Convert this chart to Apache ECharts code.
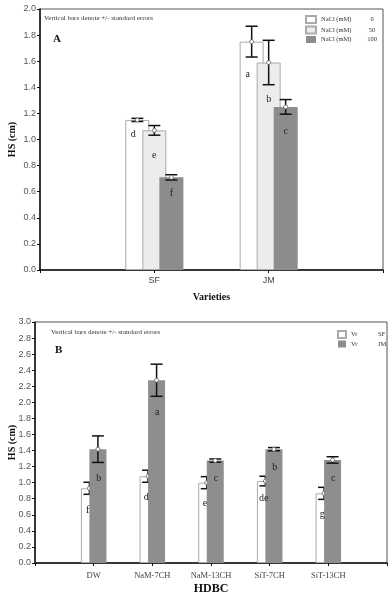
<!DOCTYPE html>
<html>
<head>
<meta charset="utf-8">
<script src="https://cdn.jsdelivr.net/npm/echarts@6/dist/echarts.min.js"></script>
<style>
  html, body { margin: 0; padding: 0; background: #fff; }
  #chart { width: 391px; height: 600px; }
</style>
</head>
<body>
<div id="chart"></div>
<script>
// Panel A - varieties under NaCl
const varieties = ['SF', 'JM'];
const naclLevels = ['0', '50', '100'];
const hsNacl0 = [1.15, 1.75];
const seNacl0 = [0.012, 0.118];
const hsNacl50 = [1.07, 1.59];
const seNacl50 = [0.037, 0.17];
const hsNacl100 = [0.71, 1.25];
const seNacl100 = [0.02, 0.056];
const lettersNacl0 = ['d', 'a'];
const letterYNacl0 = [1.04, 1.50];
const lettersNacl50 = ['e', 'b'];
const letterYNacl50 = [0.88, 1.31];
const lettersNacl100 = ['f', 'c'];
const letterYNacl100 = [0.59, 1.06];
const ticksA = [0, 2, 0.2];

// Panel B - HDBC treatments
const treatments = ['DW', 'NaM-7CH', 'NaM-13CH', 'SiT-7CH', 'SiT-13CH'];
const hsSF = [0.93, 1.08, 1.00, 1.02, 0.867];
const seSF = [0.075, 0.075, 0.075, 0.06, 0.075];
const hsJM = [1.417, 2.275, 1.275, 1.417, 1.283];
const seJM = [0.165, 0.2, 0.02, 0.02, 0.04];
const lettersSF = ['f', 'd', 'e', 'de', 'g'];
const letterYSF = [0.66, 0.82, 0.745, 0.80, 0.61];
const lettersJM = ['b', 'a', 'c', 'b', 'c'];
const letterYJM = [1.05, 1.87, 1.05, 1.19, 1.05];
const ticksB = [0, 3, 0.2];

const SERIF = '"Liberation Serif", "DejaVu Serif", serif';
const SANS = '"Liberation Sans", Arial, sans-serif';

let chart = echarts.init(document.getElementById('chart'));

// pad the category list so groups sit at 1/3, 2/3 ... like the original
const pad = arr => [''].concat(arr, ['']);
const toPoints = arr => arr.map((v, i) => [i + 1, v]);

function barSeries(name, xi, values, color, border, z) {
    return {
        name: name,
        type: 'bar',
        z: z,
        xAxisIndex: xi,
        yAxisIndex: xi,
        barWidth: xi === 0 ? 24 : 17,
        barGap: xi === 0 ? '-29%' : '-50%',
        data: toPoints(values),
        itemStyle: { color: color, borderColor: border, borderWidth: border ? 1 : 0 },
        emphasis: { disabled: true }
    };
}

function errSeries(xi, values, errs, offset, z) {
    return {
        type: 'custom',
        z: z,
        xAxisIndex: xi,
        yAxisIndex: xi,
        data: values.map((v, i) => [i + 1, v, errs[i]]),
        encode: { x: 0, y: 1 },
        renderItem: (params, api) => {
            const c = api.coord([api.value(0), api.value(1)]);
            const hi = api.coord([api.value(0), api.value(1) + api.value(2)]);
            const lo = api.coord([api.value(0), api.value(1) - api.value(2)]);
            const x = c[0] + offset;
            const cap = 6;
            const ln = { stroke: '#111', lineWidth: 1.5 };
            return {
                type: 'group',
                children: [
                    { type: 'line', shape: { x1: x, y1: hi[1], x2: x, y2: lo[1] }, style: ln },
                    { type: 'line', shape: { x1: x - cap, y1: hi[1], x2: x + cap, y2: hi[1] }, style: ln },
                    { type: 'line', shape: { x1: x - cap, y1: lo[1], x2: x + cap, y2: lo[1] }, style: ln },
                    { type: 'circle', shape: { cx: x, cy: c[1], r: 2 }, style: { fill: '#fff', stroke: '#666', lineWidth: 0.8 } }
                ]
            };
        }
    };
}

function letterSeries(xi, letters, ys, offset) {
    return {
        type: 'custom',
        z: 20,
        xAxisIndex: xi,
        yAxisIndex: xi,
        data: ys.map((v, i) => [i + 1, v]),
        encode: { x: 0, y: 1 },
        renderItem: (params, api) => {
            const p = api.coord([api.value(0), api.value(1)]);
            return {
                type: 'text',
                style: {
                    text: letters[params.dataIndex],
                    x: p[0] + offset, y: p[1],
                    align: 'center', verticalAlign: 'middle',
                    font: '10px ' + SERIF, fill: '#222'
                }
            };
        }
    };
}

function catAxis(gi, cats, name, gap, labelFont, labelMargin, nameSize) {
    return {
        type: 'category', gridIndex: gi, data: pad(cats), boundaryGap: false,
        name: name, nameLocation: 'middle', nameGap: gap, nameMoveOverlap: false,
        nameTextStyle: { fontFamily: SERIF, fontWeight: 'bold', fontSize: nameSize, color: '#111' },
        axisLine: { lineStyle: { color: '#111', width: 1.5 } },
        axisTick: { interval: 0, length: 3, lineStyle: { color: '#111' } },
        axisLabel: { interval: 0, fontFamily: labelFont, fontSize: labelFont === SANS ? 9 : 8.5, color: '#444', margin: labelMargin },
        splitLine: { show: false }
    };
}

function valAxis(gi, t, gap) {
    return {
        type: 'value', gridIndex: gi, min: t[0], max: t[1], interval: t[2],
        name: 'HS (cm)', nameLocation: 'middle', nameGap: gap, nameRotate: 90, nameMoveOverlap: false,
        nameTextStyle: { fontFamily: SERIF, fontWeight: 'bold', fontSize: 10, color: '#111' },
        axisLine: { show: true, lineStyle: { color: '#111', width: 1.5 } },
        axisTick: { show: true, length: 3, lineStyle: { color: '#111' } },
        axisLabel: { fontFamily: SANS, fontSize: 9, color: '#555', margin: 4, formatter: v => v.toFixed(1) },
        splitLine: { show: false }
    };
}

const naclNames = naclLevels.map(l => 'NaCl (mM) ' + l);
const vrNames = ['Vr SF', 'Vr JM'];

let option = {
    animation: false,
    backgroundColor: '#fff',
    grid: [
        { left: 40, right: 8, top: 9, bottom: 330, show: true, borderColor: '#555', borderWidth: 1, containLabel: false, outerBoundsMode: 'none' },
        { left: 35, right: 4, top: 322, bottom: 37, show: true, borderColor: '#555', borderWidth: 1, containLabel: false, outerBoundsMode: 'none' }
    ],
    xAxis: [
        catAxis(0, varieties, 'Varieties', 22, SANS, 6, 10),
        catAxis(1, treatments, 'HDBC', 20, SERIF, 8, 12)
    ],
    yAxis: [valAxis(0, ticksA, 23), valAxis(1, ticksB, 18)],
    legend: [
        {
            data: naclNames, orient: 'vertical', left: 305, top: 15, padding: 0,
            icon: 'rect', itemWidth: 10, itemHeight: 7, itemGap: 1.5, selectedMode: false,
            formatter: n => '{a|NaCl (mM)}{b|' + n.split(' ').pop() + '}',
            textStyle: {
                fontFamily: SERIF, fontSize: 6.5, color: '#333',
                rich: { a: { width: 42, fontFamily: SERIF, fontSize: 6.5 }, b: { width: 18, align: 'center', fontFamily: SERIF, fontSize: 6.5 } }
            }
        },
        {
            data: vrNames, orient: 'vertical', left: 337, top: 330, padding: 0,
            icon: 'rect', itemWidth: 8, itemHeight: 7, itemGap: 1.5, selectedMode: false,
            formatter: n => '{a|Vr}{b|' + n.split(' ').pop() + '}',
            textStyle: {
                fontFamily: SERIF, fontSize: 6.5, color: '#333',
                rich: { a: { width: 27, fontFamily: SERIF, fontSize: 6.5 }, b: { width: 12, fontFamily: SERIF, fontSize: 6.5 } }
            }
        }
    ],
    graphic: [
        { type: 'text', left: 44, top: 15, style: { text: 'Vertical bars denote +/- standard errors', font: '7px ' + SERIF, fill: '#333' } },
        { type: 'text', left: 53, top: 34, style: { text: 'A', font: 'bold 11px ' + SERIF, fill: '#111' } },
        { type: 'text', left: 51, top: 329, style: { text: 'Vertical bars denote +/- standard errors', font: '7px ' + SERIF, fill: '#333' } },
        { type: 'text', left: 55, top: 345, style: { text: 'B', font: 'bold 11px ' + SERIF, fill: '#111' } }
    ],
    series: [
        barSeries(naclNames[0], 0, hsNacl0, '#ffffff', '#aaaaaa', 2),
        errSeries(0, hsNacl0, seNacl0, -17, 3),
        barSeries(naclNames[1], 0, hsNacl50, '#ececec', '#aaaaaa', 4),
        errSeries(0, hsNacl50, seNacl50, 0, 5),
        barSeries(naclNames[2], 0, hsNacl100, '#8c8c8c', null, 6),
        errSeries(0, hsNacl100, seNacl100, 17, 7),
        letterSeries(0, lettersNacl0, letterYNacl0, -21),
        letterSeries(0, lettersNacl50, letterYNacl50, 0),
        letterSeries(0, lettersNacl100, letterYNacl100, 17),

        barSeries(vrNames[0], 1, hsSF, '#ffffff', '#aaaaaa', 2),
        errSeries(1, hsSF, seSF, -4.25, 3),
        barSeries(vrNames[1], 1, hsJM, '#8e8e8e', null, 4),
        errSeries(1, hsJM, seJM, 4.25, 5),
        letterSeries(1, lettersSF, letterYSF, -6),
        letterSeries(1, lettersJM, letterYJM, 5)
    ]
};

chart.setOption(option);
</script>
</body>
</html>
